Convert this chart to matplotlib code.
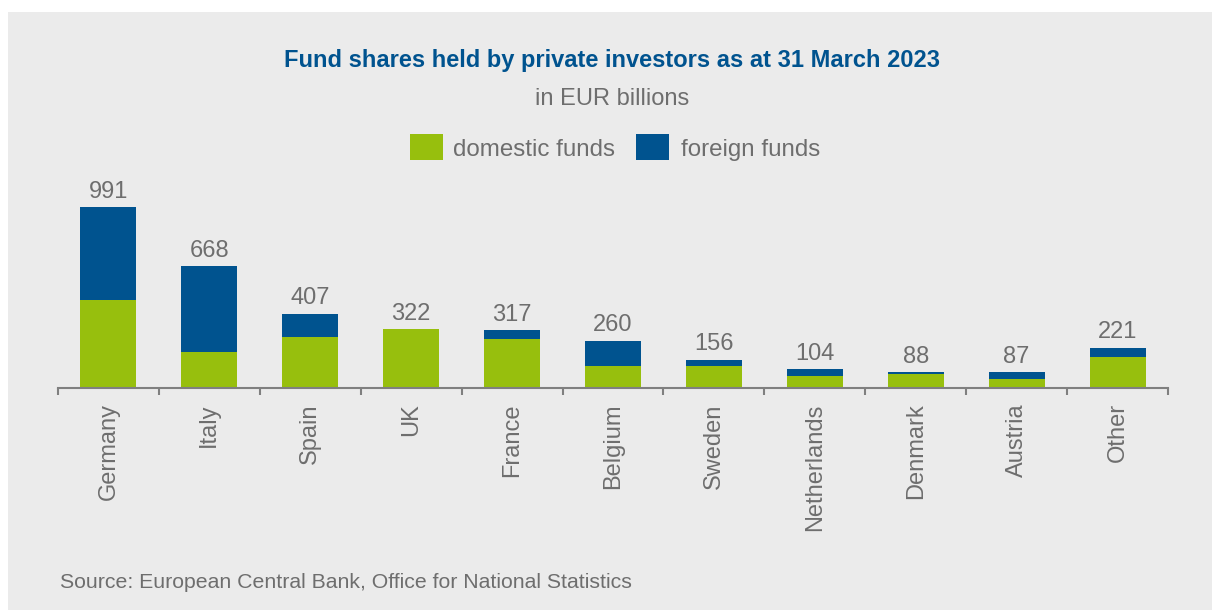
import numpy as np
import matplotlib.pyplot as plt
from matplotlib.patches import Rectangle

plt.rcParams['font.family'] = ['Liberation Sans', 'DejaVu Sans']

countries = ["Germany", "Italy", "Spain", "UK", "France", "Belgium",
             "Sweden", "Netherlands", "Denmark", "Austria", "Other"]
domestic = [483, 199, 279, 322, 268, 122, 122, 66, 75, 51, 170]
foreign = [508, 469, 128, 0, 49, 138, 34, 38, 13, 36, 51]
totals = [991, 668, 407, 322, 317, 260, 156, 104, 88, 87, 221]
series_names = ["domestic funds", "foreign funds"]

GREEN = "#97bf0d"
BLUE = "#00538f"
GREY_TXT = "#6e6e6e"
BG = "#ebebeb"

W, H = 1212, 610
fig = plt.figure(figsize=(W / 100, H / 100), dpi=100)
fig.patch.set_facecolor("white")
fig.patches.append(Rectangle((8 / W, 0), 1 - 8 / W, 1 - 12 / H,
                             transform=fig.transFigure, facecolor=BG,
                             edgecolor="none", zorder=-10))

ax = fig.add_axes([58 / W, (H - 388) / H, (1168 - 58) / W, 181 / H])
ax.set_facecolor("none")

x = np.arange(len(countries))
ax.bar(x, domestic, width=0.555, color=GREEN, edgecolor="none")
ax.bar(x, foreign, width=0.555, bottom=domestic, color=BLUE, edgecolor="none")

for xi, t in zip(x, totals):
    ax.annotate(str(t), (xi, t), xytext=(0, 3), textcoords="offset points",
                ha="center", va="bottom", fontsize=17, color=GREY_TXT)

ax.set_xlim(-0.5, len(countries) - 0.5)
ax.set_ylim(0, 991)
for s in ["top", "right", "left"]:
    ax.spines[s].set_visible(False)
ax.spines["bottom"].set_color("#7f7f7f")
ax.spines["bottom"].set_linewidth(1.5)
ax.set_yticks([])

ax.set_xticks(x)
ax.set_xticklabels(countries, rotation=90, fontsize=17, color=GREY_TXT)
ax.tick_params(axis="x", which="major", length=0, pad=11)
ax.set_xticks(np.arange(-0.5, len(countries), 1.0), minor=True)
ax.tick_params(axis="x", which="minor", length=5, width=1.5,
               color="#7f7f7f", direction="out")

fig.text(612 / W, 1 - 61 / H, "Fund shares held by private investors as at 31 March 2023",
         ha="center", va="center", fontsize=17, fontweight="bold", color=BLUE)
fig.text(612 / W, 1 - 99 / H, "in EUR billions",
         ha="center", va="center", fontsize=17, color=GREY_TXT)

# legend
legend_pos = [(410, 453), (636, 681)]
for (sx, tx), name, col in zip(legend_pos, series_names, [GREEN, BLUE]):
    fig.patches.append(Rectangle((sx / W, 1 - 160 / H), 33 / W, 26 / H,
                                 transform=fig.transFigure, facecolor=col,
                                 edgecolor="none"))
    fig.text(tx / W, 1 - 150 / H, name, ha="left", va="center",
             fontsize=17.4, color=GREY_TXT)

fig.text(60 / W, 1 - 582 / H, "Source: European Central Bank, Office for National Statistics",
         ha="left", va="center", fontsize=15.3, color=GREY_TXT)

fig.savefig("out.png", dpi=100, facecolor=fig.get_facecolor())
